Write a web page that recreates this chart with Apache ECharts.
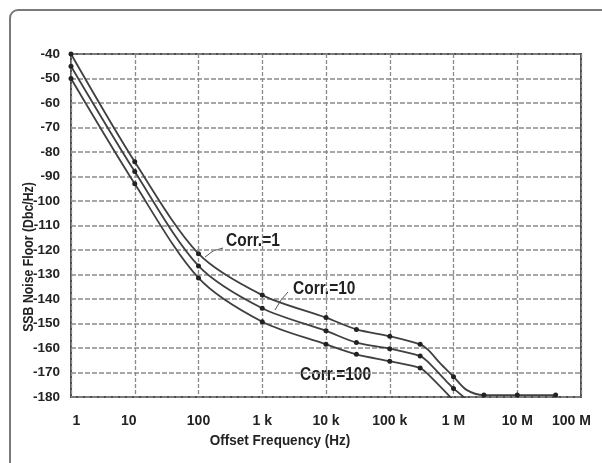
<!DOCTYPE html>
<html>
<head>
<meta charset="utf-8">
<script src="https://cdn.jsdelivr.net/npm/echarts@6/dist/echarts.min.js"></script>
<style>
  html, body { margin: 0; padding: 0; background: #fff; }
  #chart { width: 602px; height: 463px; }
</style>
</head>
<body>
<div id="chart"></div>
<script>
// decade tick labels of the log frequency axis
const xTickLabels = ['1', '10', '100', '1 k', '10 k', '100 k', '1 M', '10 M', '100 M']

// measured points (with markers)
const corr1Freq = [1, 10, 100, 1e3, 1e4, 3e4, 1e5, 3e5, 1e6, 3e6, 1e7, 4e7]
const corr1Val = [-40, -84, -121.5, -138.4, -147.6, -152.4, -155.2, -158.5, -171.7, -179.2, -179.2, -179.2]
const corr10Freq = [1, 10, 100, 1e3, 1e4, 3e4, 1e5, 3e5, 1e6]
const corr10Val = [-45, -88, -126.5, -143.8, -153, -157.8, -160.3, -163.3, -176.5]
const corr100Freq = [1, 10, 100, 1e3, 1e4, 3e4, 1e5, 3e5]
const corr100Val = [-50, -93, -131.4, -149.3, -158.5, -162.6, -165.4, -168.2]

// extra points along the curve where it bends (no marker)
const corr1Bends = [[4e5, -160.8], [6.2e5, -166.3], [1.6e6, -177.1]]
const corr10Bends = [[3.9e5, -165.5], [7.8e5, -173.7], [1.8e6, -182]]
const corr100Bends = [[3.9e5, -170.5], [1.1e6, -182.5]]

function buildData(freq, val, bends) {
  let pts = freq.map((f, i) => ({ value: [f, val[i]] }))
  bends.forEach(b => pts.push({ value: b, symbolSize: 0 }))
  pts.sort((a, b) => a.value[0] - b.value[0])
  return pts
}

const font = '"Liberation Sans", Arial, Helvetica, sans-serif'
const lineColor = '#404040'

function curve(name, data) {
  return {
    name: name,
    type: 'line',
    data: data,
    smooth: 0.3,
    symbol: 'circle',
    symbolSize: 5,
    showSymbol: true,
    clip: true,
    lineStyle: { color: lineColor, width: 1.8 },
    itemStyle: { color: '#222' }
  }
}

// narrow bold text drawn as graphic (squeezed along its reading direction)
function label(text, x, y, size, sx, extra) {
  return Object.assign({
    type: 'text',
    x: x,
    y: y,
    scaleX: sx,
    style: {
      text: text,
      fontFamily: font,
      fontWeight: 'bold',
      fontSize: size,
      fill: '#222',
      verticalAlign: 'middle'
    }
  }, extra || {})
}

const chart = echarts.init(document.getElementById('chart'))

const tick = { fontFamily: font, fontWeight: 'bold', fontSize: 14, color: '#222' }

const yTitle = label('SSB Noise Floor (Dbc/Hz)', 29, 257, 15, 0.82, { rotation: Math.PI / 2 })
yTitle.style.align = 'center'
const xTitle = label('Offset Frequency (Hz)', 280, 441, 15, 0.9)
xTitle.style.align = 'center'

const option = {
  animation: false,
  backgroundColor: '#fff',
  grid: {
    left: 71,
    top: 54,
    right: 21,
    bottom: 66,
    show: true,
    borderColor: '#505050',
    borderWidth: 2
  },
  xAxis: {
    type: 'log',
    logBase: 10,
    min: 1,
    max: 1e8,
    splitNumber: 8,
    axisLine: { show: false },
    axisTick: { show: false },
    splitLine: {
      show: true,
      lineStyle: { color: '#8a8a8a', width: 1.3, type: [4, 2] }
    },
    axisLabel: Object.assign({
      margin: 17,
      formatter: function(v) {
        const i = Math.round(Math.log10(v))
        const t = xTickLabels[i]
        if (i === 0) return '{a|' + t + '}'
        if (i === 1) return '{b|' + t + '}'
        if (i === 8) return '{c|' + t + '}'
        return t
      },
      rich: {
        a: Object.assign({ padding: [0, 0, 0, 11] }, tick),
        b: Object.assign({ padding: [0, 12, 0, 0] }, tick),
        c: Object.assign({ padding: [0, 19, 0, 0] }, tick)
      }
    }, tick)
  },
  yAxis: {
    type: 'value',
    min: -180,
    max: -40,
    interval: 10,
    axisLine: { show: false },
    axisTick: { show: false },
    splitLine: {
      show: true,
      lineStyle: { color: '#8a8a8a', width: 1.6, type: [5, 2] }
    },
    axisLabel: Object.assign({ margin: 11 }, tick, { fontSize: 13.5 })
  },
  series: [
    curve('Corr.=1', buildData(corr1Freq, corr1Val, corr1Bends)),
    curve('Corr.=10', buildData(corr10Freq, corr10Val, corr10Bends)),
    curve('Corr.=100', buildData(corr100Freq, corr100Val, corr100Bends))
  ],
  graphic: [
    {
      type: 'rect',
      shape: { x: 10, y: 10, width: 700, height: 600, r: 8 },
      style: { fill: 'none', stroke: '#7a7a7a', lineWidth: 2 },
      silent: true
    },
    yTitle,
    xTitle,
    label('Corr.=1', 226, 241, 18, 0.86),
    label('Corr.=10', 293, 289, 18, 0.86),
    label('Corr.=100', 300, 375, 18, 0.86),
    {
      type: 'polyline',
      shape: { points: [[223, 248], [213, 251], [205, 257]] },
      style: { stroke: '#555', lineWidth: 1, fill: 'none' }
    },
    {
      type: 'polyline',
      shape: { points: [[288, 292], [281, 300], [275, 310]] },
      style: { stroke: '#555', lineWidth: 1, fill: 'none' }
    }
  ]
}

chart.setOption(option)
</script>
</body>
</html>
